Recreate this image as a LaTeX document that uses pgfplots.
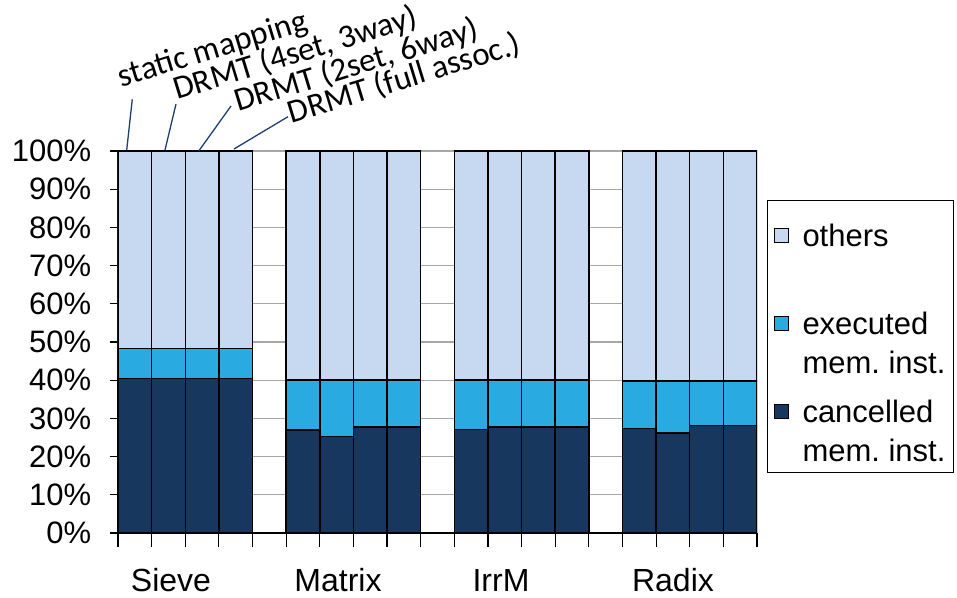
\documentclass[border=0pt]{standalone}
\usepackage{pgfplots}
\pgfplotsset{compat=1.18}
\usepackage{fontspec}
\setmainfont{Liberation Sans}
\newfontfamily\calibri{Carlito}
\definecolor{cOthers}{RGB}{198,217,240}
\definecolor{cExec}{RGB}{41,171,226}
\definecolor{cCanc}{RGB}{23,55,94}
\definecolor{cLine}{RGB}{31,63,111}
\begin{document}
\begin{tikzpicture}[x=1pt,y=1pt]
\useasboundingbox (-118,-64) rectangle (839,533);
\begin{axis}[
  at={(0,0)}, anchor=south west,
  scale only axis, width=639pt, height=382pt,
  xmin=0, xmax=19, ymin=0, ymax=100,
  ybar stacked, bar width=1,
  axis x line*=bottom, axis y line*=left,
  axis line style={black, line width=1.2pt},
  xtick={0,...,19}, xticklabels={},
  ytick={0,10,...,100},
  yticklabels={0\%,10\%,20\%,30\%,40\%,50\%,60\%,70\%,80\%,90\%,100\%},
  yticklabel style={font=\fontsize{31}{31}\selectfont, xshift=-19pt},
  tick align=outside,
  xtick style={black, line width=1.2pt, /pgfplots/major tick length=14pt},
  ytick style={black, line width=1.2pt, /pgfplots/major tick length=8pt},
  ymajorgrids, grid style={gray!70, line width=1.2pt},
  reverse legend,
  legend style={at={(1,0.872)}, xshift=10pt, anchor=north west,
    draw=black, line width=1pt, font=\fontsize{31}{39}\selectfont,
    nodes={align=left, inner sep=2pt}, cells={anchor=base west}, row sep=21pt,
    inner xsep=6pt, inner ysep=8pt,
    /tikz/every odd column/.append style={column sep=12pt}},
  legend image code/.code={\path[draw=none, fill=none] (0pt,-2pt) rectangle (14pt,60pt);
     \draw[#1, line width=1pt] (0pt,43pt) rectangle (14pt,57pt);},
]
\addplot[fill=cCanc, draw=black, line width=1.5pt] coordinates {
 (0.5,40.5) (1.5,40.5) (2.5,40.5) (3.5,40.5)
 (5.5,27.0) (6.5,25.2) (7.5,27.8) (8.5,27.8)
 (10.5,27.1) (11.5,27.8) (12.5,27.8) (13.5,27.7)
 (15.5,27.3) (16.5,26.2) (17.5,28.2) (18.5,28.2)};
\addplot[fill=cExec, draw=black, line width=1.5pt] coordinates {
 (0.5,7.8) (1.5,7.8) (2.5,7.8) (3.5,7.8)
 (5.5,13.0) (6.5,14.8) (7.5,12.2) (8.5,12.2)
 (10.5,12.9) (11.5,12.2) (12.5,12.2) (13.5,12.3)
 (15.5,12.5) (16.5,13.6) (17.5,11.6) (18.5,11.6)};
\addplot[fill=cOthers, draw=black, line width=1.5pt] coordinates {
 (0.5,51.7) (1.5,51.7) (2.5,51.7) (3.5,51.7)
 (5.5,60.0) (6.5,60.0) (7.5,60.0) (8.5,60.0)
 (10.5,60.0) (11.5,60.0) (12.5,60.0) (13.5,60.0)
 (15.5,60.2) (16.5,60.2) (17.5,60.2) (18.5,60.2)};
\legend{{cancelled\\mem.\ inst.},{executed\\mem.\ inst.},{\rule{0pt}{36pt}others\\\strut}}
\end{axis}
\begin{scope}[font=\fontsize{32}{32}\selectfont]
\node[anchor=center] at (53,-47) {Sieve};
\node[anchor=center] at (220,-47) {Matrix};
\node[anchor=center] at (383,-47) {IrrM};
\node[anchor=center] at (555,-47) {Radix};
\end{scope}
\begin{scope}[cLine, line width=1.3pt]
\draw (8.7,383) -- (14.3,433.7);
\draw (47,383) -- (58,429);
\draw (81,382.3) -- (113,427);
\draw (116,384) -- (170,416.3);
\end{scope}
\begin{scope}[font=\calibri\fontsize{33}{33}\selectfont, inner sep=0pt]
\node[anchor=base west, rotate=17] at (3.7,445.7) {static mapping};
\node[anchor=base west, rotate=17] at (59.3,433) {DRMT (4set, 3way)};
\node[anchor=base west, rotate=17] at (120.3,421.3) {DRMT (2set, 6way)};
\node[anchor=base west, rotate=17] at (173.7,409.7) {DRMT (full assoc.)};
\end{scope}
\end{tikzpicture}
\end{document}
